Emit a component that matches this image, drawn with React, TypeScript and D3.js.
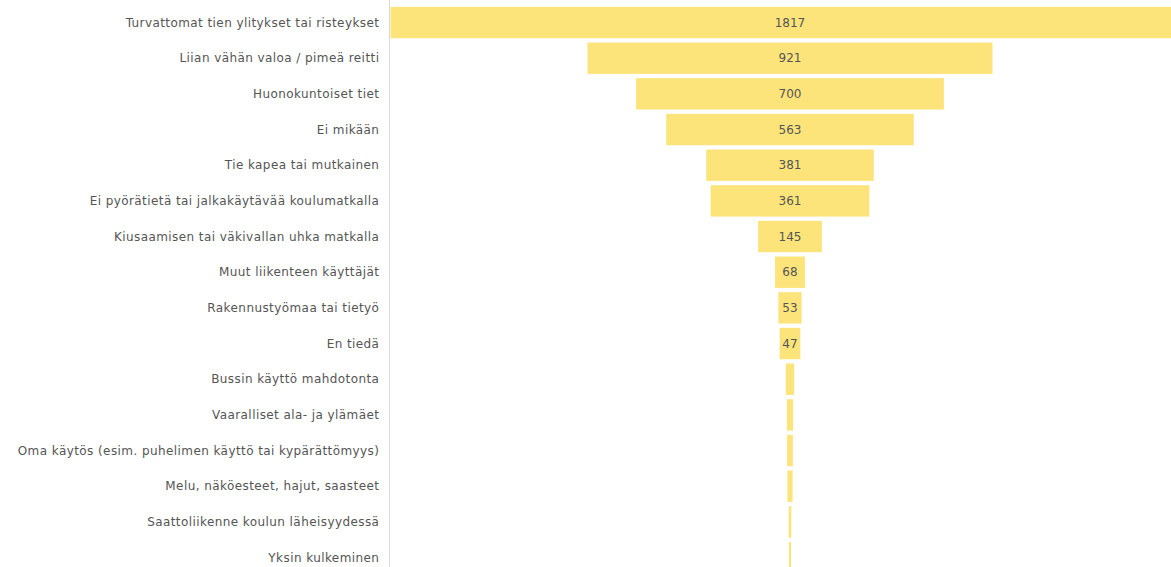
import React from "react";
import * as d3 from "d3";

const categories: string[] = [
  "Turvattomat tien ylitykset tai risteykset",
  "Liian vähän valoa / pimeä reitti",
  "Huonokuntoiset tiet",
  "Ei mikään",
  "Tie kapea tai mutkainen",
  "Ei pyörätietä tai jalkakäytävää koulumatkalla",
  "Kiusaamisen tai väkivallan uhka matkalla",
  "Muut liikenteen käyttäjät",
  "Rakennustyömaa tai tietyö",
  "En tiedä",
  "Bussin käyttö mahdotonta",
  "Vaaralliset ala- ja ylämäet",
  "Oma käytös (esim. puhelimen käyttö tai kypärättömyys)",
  "Melu, näköesteet, hajut, saasteet",
  "Saattoliikenne koulun läheisyydessä",
  "Yksin kulkeminen",
];

const values: number[] = [1817, 921, 700, 563, 381, 361, 145, 68, 53, 47, 19, 14, 13, 12, 6, 5];

const labeledMin = 40;

const W = 1171;
const H = 567;

export default function App() {
  const y = d3
    .scaleBand<string>()
    .domain(categories)
    .range([4.7, 575.4])
    .paddingInner(0.12)
    .paddingOuter(0.06);

  const w = d3.scaleLinear().domain([0, d3.max(values) as number]).range([0, 799]);
  const cx = 790;
  const axisX = 389.5;
  const font = "'DejaVu Sans', Verdana, sans-serif";

  return (
    <div style={{ position: "fixed", left: 0, top: 0 }}>
      <svg width={W} height={H} style={{ display: "block", background: "#fff" }}>
        <line x1={axisX} x2={axisX} y1={0} y2={H} stroke="#d9d9d9" strokeWidth={1} />
        {categories.map((c, i) => {
          const v = values[i];
          const yy = y(c) as number;
          const bw = w(v);
          const mid = yy + y.bandwidth() / 2;
          return (
            <g key={c}>
              <text
                x={379.4}
                y={mid}
                textAnchor="end"
                dominantBaseline="central"
                fontFamily={font}
                fontSize={12}
                letterSpacing={0.42}
                fill="#555"
              >
                {c}
              </text>
              <rect x={cx - bw / 2} y={yy} width={bw} height={y.bandwidth()} fill="#fce47b" />
              {v >= labeledMin && (
                <text
                  x={cx}
                  y={mid}
                  textAnchor="middle"
                  dominantBaseline="central"
                  fontFamily={font}
                  fontSize={12}
                  fill="#555"
                >
                  {v}
                </text>
              )}
            </g>
          );
        })}
      </svg>
    </div>
  );
}
